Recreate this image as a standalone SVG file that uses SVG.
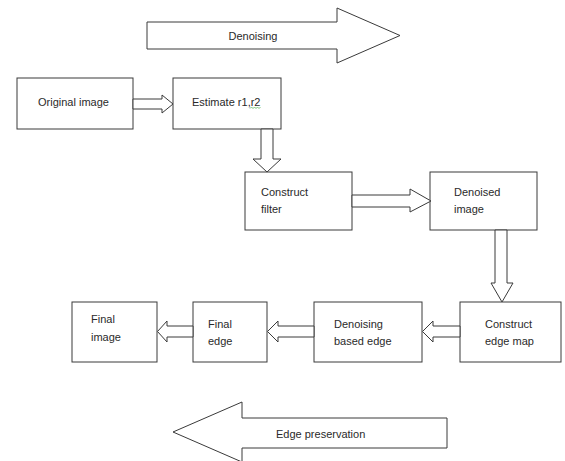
<svg xmlns="http://www.w3.org/2000/svg" width="565" height="461" viewBox="0 0 565 461">
<style>
.box{fill:#fff;stroke:#3a3a3a;stroke-width:1}
.arr{fill:#fff;stroke:#3a3a3a;stroke-width:1;stroke-linejoin:miter}
text{font-family:"Liberation Sans",Arial,sans-serif;font-size:11px;fill:#2a2a2a}
</style>
<rect width="565" height="461" fill="#fff"/>
<g id="denoising-banner">
<path class="arr" d="M147,22 H337 V8 L400,35.5 L337,63 V49 H147 Z"/>
<text x="253" y="40" text-anchor="middle">Denoising</text>
</g>
<g id="edge-banner">
<path class="arr" d="M447,418 H242 V402 L173,432 L242,462 V448 H447 Z"/>
<text x="276" y="438">Edge preservation</text>
</g>
<g id="original-image">
<rect class="box" x="17" y="78" width="116" height="51"/>
<text x="38" y="106">Original image</text>
</g>
<g id="estimate">
<rect class="box" x="173" y="78" width="108" height="51"/>
<text x="192" y="106">Estimate r1,r2</text>
<path d="M250,108.5 l1.5,-1.5 l1.5,1.5 l1.5,-1.5 l1.5,1.5 l1.5,-1.5 l1.5,1.5 l1.5,-1.5" fill="none" stroke="#5cb85c" stroke-width="0.8"/>
</g>
<g id="construct-filter">
<rect class="box" x="245" y="172" width="107" height="58"/>
<text x="261" y="196">Construct</text>
<text x="261" y="213">filter</text>
</g>
<g id="denoised-image">
<rect class="box" x="430" y="172" width="107" height="58"/>
<text x="454" y="196">Denoised</text>
<text x="454" y="213">image</text>
</g>
<g id="construct-edge-map">
<rect class="box" x="460" y="302" width="101" height="60"/>
<text x="485" y="328">Construct</text>
<text x="485" y="345">edge map</text>
</g>
<g id="denoising-based-edge">
<rect class="box" x="314" y="302" width="108" height="60"/>
<text x="334" y="328">Denoising</text>
<text x="334" y="345">based edge</text>
</g>
<g id="final-edge">
<rect class="box" x="193" y="302" width="74" height="60"/>
<text x="208" y="328">Final</text>
<text x="208" y="345">edge</text>
</g>
<g id="final-image">
<rect class="box" x="72" y="302" width="85" height="60"/>
<text x="91" y="323">Final</text>
<text x="91" y="341">image</text>
</g>
<g id="connectors">
<path class="arr" d="M133,99 H162 V95 L173,104 L162,113 V109 H133 Z"/>
<path class="arr" d="M261,129 V159 H253 L267,172 L281,159 H273 V129 Z"/>
<path class="arr" d="M352,195 H410 V189 L431,201 L410,212 V207 H352 Z"/>
<path class="arr" d="M495,230 V283 H491 L502,302 L513,283 H507 V230 Z"/>
<path class="arr" d="M460,326 H433 V321 L422.5,331.5 L433,342 V337 H460 Z"/>
<path class="arr" d="M314,326 H278 V321 L267.5,331.5 L278,342 V337 H314 Z"/>
<path class="arr" d="M193,326 H167 V321 L157.5,331.5 L167,342 V337 H193 Z"/>
</g>
</svg>
